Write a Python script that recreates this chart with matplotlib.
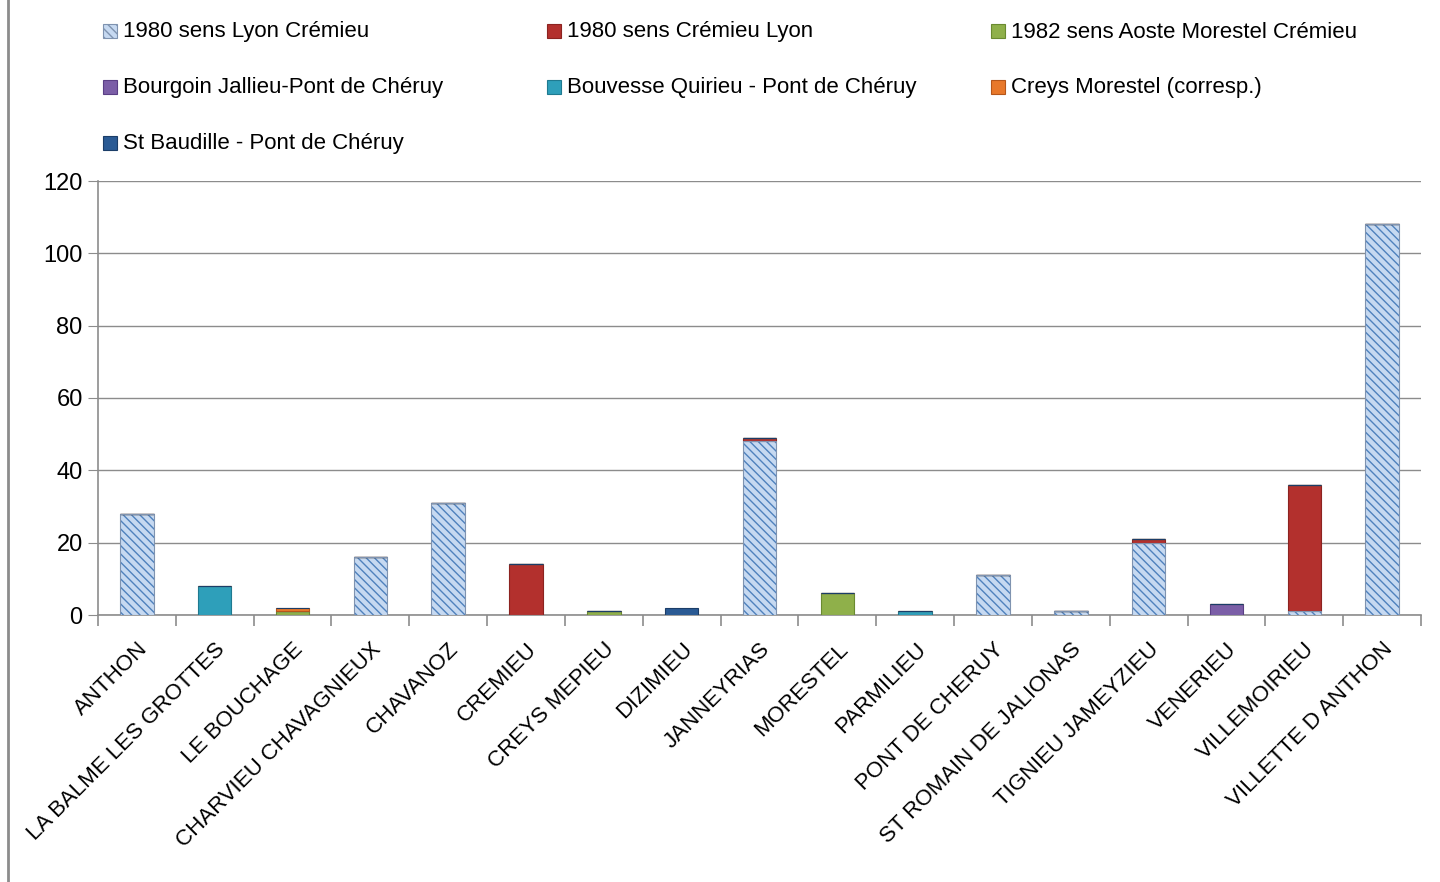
import numpy as np
import matplotlib.pyplot as plt
from matplotlib.lines import Line2D
from matplotlib.patches import Rectangle

plt.rcParams['font.family'] = ['Liberation Sans', 'DejaVu Sans']
plt.rcParams['hatch.linewidth'] = 1.0

communes = ['ANTHON', 'LA BALME LES GROTTES', 'LE BOUCHAGE', 'CHARVIEU CHAVAGNIEUX',
            'CHAVANOZ', 'CREMIEU', 'CREYS MEPIEU', 'DIZIMIEU', 'JANNEYRIAS',
            'MORESTEL', 'PARMILIEU', 'PONT DE CHERUY', 'ST ROMAIN DE JALIONAS',
            'TIGNIEU JAMEYZIEU', 'VENERIEU', 'VILLEMOIRIEU', 'VILLETTE D ANTHON']

lyon_cremieu = [28, 0, 0, 16, 31, 0, 0, 0, 48, 0, 0, 11, 1, 20, 0, 1, 108]
cremieu_lyon = [0, 0, 0, 0, 0, 14, 0, 0, 1, 0, 0, 0, 0, 1, 0, 35, 0]
aoste_morestel = [0, 0, 1, 0, 0, 0, 1, 0, 0, 6, 0, 0, 0, 0, 0, 0, 0]
bourgoin = [0, 0, 0, 0, 0, 0, 0, 0, 0, 0, 0, 0, 0, 0, 3, 0, 0]
bouvesse = [0, 8, 0, 0, 0, 0, 0, 0, 0, 0, 1, 0, 0, 0, 0, 0, 0]
creys_morestel = [0, 0, 1, 0, 0, 0, 0, 0, 0, 0, 0, 0, 0, 0, 0, 0, 0]
st_baudille = [0, 0, 0, 0, 0, 0, 0, 2, 0, 0, 0, 0, 0, 0, 0, 0, 0]

series = [
    ('1980 sens Lyon Crémieu', lyon_cremieu, '#c6d9f1', '#4f81bd', '\\\\\\\\'),
    ('1980 sens Crémieu Lyon', cremieu_lyon, '#b3302d', '#8c2320', None),
    ('1982 sens Aoste Morestel Crémieu', aoste_morestel, '#8fb04a', '#6a8a30', None),
    ('Bourgoin Jallieu-Pont de Chéruy', bourgoin, '#7b5ea7', '#5a3f85', None),
    ('Bouvesse Quirieu - Pont de Chéruy', bouvesse, '#2e9fba', '#1f7a90', None),
    ('Creys Morestel (corresp.)', creys_morestel, '#e8782a', '#b5561a', None),
    ('St Baudille - Pont de Chéruy', st_baudille, '#2a5a94', '#1b3d68', None),
]

W, H = 1440, 882
fig = plt.figure(figsize=(14.4, 8.82), dpi=100)
ax = fig.add_axes([98 / W, 1 - 615 / H, (1421 - 98) / W, (615 - 181) / H])

x = np.arange(len(communes))
bottom = np.zeros(len(communes))
for name, vals, fc, ec, hatch in series:
    vals = np.array(vals, dtype=float)
    if hatch:
        ax.bar(x, vals, 0.43, bottom=bottom, color=fc, edgecolor=ec,
               hatch=hatch, linewidth=0, zorder=3)
        ax.bar(x, vals, 0.43, bottom=bottom, color='none', edgecolor='#7f93b0',
               linewidth=0.8, zorder=4)
    else:
        ax.bar(x, vals, 0.43, bottom=bottom, color=fc, edgecolor=ec,
               linewidth=0.8, zorder=3)
    bottom += vals

ax.set_ylim(0, 120)
ax.set_xlim(-0.5, len(communes) - 0.5)
ax.set_yticks(np.arange(0, 121, 20))
ax.grid(axis='y', color='#8c8c8c', linewidth=1.0, zorder=0)
ax.tick_params(axis='y', labelsize=17, length=7, color='#8c8c8c', pad=4)

ax.set_xticks(x)
ax.set_xticklabels(communes, rotation=45, ha='right', va='top',
                   rotation_mode='anchor', fontsize=16)
ax.tick_params(axis='x', which='major', length=0, pad=17)
ax.set_xticks(np.arange(-0.5, len(communes), 1), minor=True)
ax.tick_params(axis='x', which='minor', length=8, color='#8c8c8c', width=1.2)

for s in ['top', 'right']:
    ax.spines[s].set_visible(False)
for s in ['left', 'bottom']:
    ax.spines[s].set_color('#8c8c8c')
    ax.spines[s].set_linewidth(1.2)

# legend laid out in rows of three, like the original
col_x = [103, 547, 991]
row_y = [31, 87, 143]
for i, (name, vals, fc, ec, hatch) in enumerate(series):
    px = col_x[i % 3]
    py = row_y[i // 3]
    fig.add_artist(Rectangle((px / W, 1 - (py + 7) / H), 14 / W, 14 / H,
                             facecolor=fc, edgecolor=ec if not hatch else '#7f93b0',
                             hatch=hatch, linewidth=0.8,
                             transform=fig.transFigure))
    fig.text((px + 20) / W, 1 - (py + 1) / H, name, fontsize=16, va='center',
             ha='left')

fig.add_artist(Line2D([8 / W, 8 / W], [0, 1], color='#8c8c8c', linewidth=2,
                      transform=fig.transFigure))

fig.savefig('out.png', dpi=100)
plt.close()
